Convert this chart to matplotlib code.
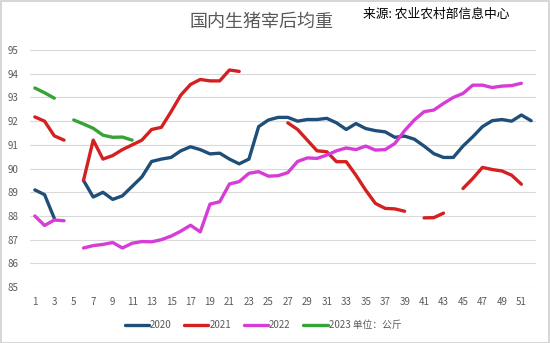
import matplotlib.pyplot as plt
import numpy as np
from matplotlib.patches import Rectangle

plt.rcParams["font.family"] = ["Noto Sans CJK SC", "DejaVu Sans"]

nan = np.nan
weeks = np.arange(1, 53)

# average carcass weight per week, kg (gaps = no data)
w2020 = [89.1, 88.9, 87.9, nan, nan, 89.5, 88.8, 89.0, 88.7, 88.85,
         89.25, 89.65, 90.3, 90.4, 90.47, 90.75, 90.92, 90.8, 90.62, 90.65,
         90.4, 90.2, 90.4, 91.77, 92.05, 92.16, 92.16, 92.0, 92.07, 92.07,
         92.12, 91.93, 91.65, 91.9, 91.69, 91.6, 91.55, 91.32, 91.37, 91.24,
         90.95, 90.63, 90.47, 90.47, 90.95, 91.34, 91.77, 92.02, 92.07, 92.0,
         92.26, 92.02]
w2021 = [92.18, 92.0, 91.38, 91.2, nan, 89.5, 91.2, 90.4, 90.55, 90.8,
         91.0, 91.2, 91.65, 91.74, 92.4, 93.1, 93.55, 93.76, 93.7, 93.7,
         94.16, 94.1, nan, nan, nan, nan, 91.93, 91.65, 91.2, 90.75,
         90.71, 90.29, 90.29, 89.72, 89.09, 88.53, 88.32, 88.3, 88.2, nan,
         87.92, 87.93, 88.12, nan, 89.16, 89.58, 90.05, 89.96, 89.9, 89.72,
         89.34, nan]
w2022 = [88.0, 87.6, 87.83, 87.8, nan, 86.65, 86.75, 86.8, 86.88, 86.65,
         86.85, 86.92, 86.91, 87.0, 87.15, 87.36, 87.61, 87.33, 88.5, 88.6,
         89.35, 89.45, 89.8, 89.87, 89.68, 89.7, 89.83, 90.3, 90.45, 90.43,
         90.57, 90.75, 90.87, 90.8, 90.95, 90.78, 90.8, 91.06, 91.6, 92.05,
         92.4, 92.47, 92.75, 93.0, 93.17, 93.52, 93.52, 93.42, 93.48, 93.5,
         93.6, nan]
w2023 = [93.4, 93.2, 92.97, nan, 92.05, 91.88, 91.7, 91.41, 91.32, 91.33,
         91.2]

series = [
    ("2020", w2020, "#1f4e79"),
    ("2021", w2021, "#d42020"),
    ("2022", w2022, "#d63cd6"),
    ("2023 单位：公斤", w2023, "#35a335"),
]

fig = plt.figure(figsize=(5.5, 3.43), dpi=100)
ax = fig.add_axes([0.0545, 0.163, 0.92, 0.691])

for label, vals, color in series:
    ax.plot(weeks[:len(vals)], vals, color=color, lw=2.4, label=label,
            solid_capstyle="round", solid_joinstyle="round")

ax.set_xlim(0.5, 52.5)
ax.set_ylim(85, 95)
ax.set_xticks(np.arange(1, 52, 2))
ax.set_yticks(np.arange(85, 96, 1))
ax.grid(axis="y", color="#d9d9d9", lw=0.8)
ax.set_axisbelow(True)
for s in ax.spines.values():
    s.set_visible(False)
ax.tick_params(length=0, labelsize=7, labelcolor="#595959")
ax.tick_params(axis="x", pad=7)
ax.tick_params(axis="y", pad=8)

fig.text(0.475, 0.935, "国内生猪宰后均重", ha="center", va="center",
         fontsize=13, color="#595959")
fig.text(0.66, 0.958, "来源: 农业农村部信息中心", ha="left", va="center",
         fontsize=9.2, color="black")

fig.legend(loc="center", bbox_to_anchor=(0.478, 0.052), ncol=4, frameon=False,
           fontsize=7, labelcolor="#595959", handlelength=2.5,
           handletextpad=0.1, columnspacing=1.3)

fig.patches.append(Rectangle((0.001, 0.001), 0.997, 0.996,
                             transform=fig.transFigure, fill=False,
                             edgecolor="#d0d0d0", lw=1.2))

fig.savefig("out.png", dpi=100)
